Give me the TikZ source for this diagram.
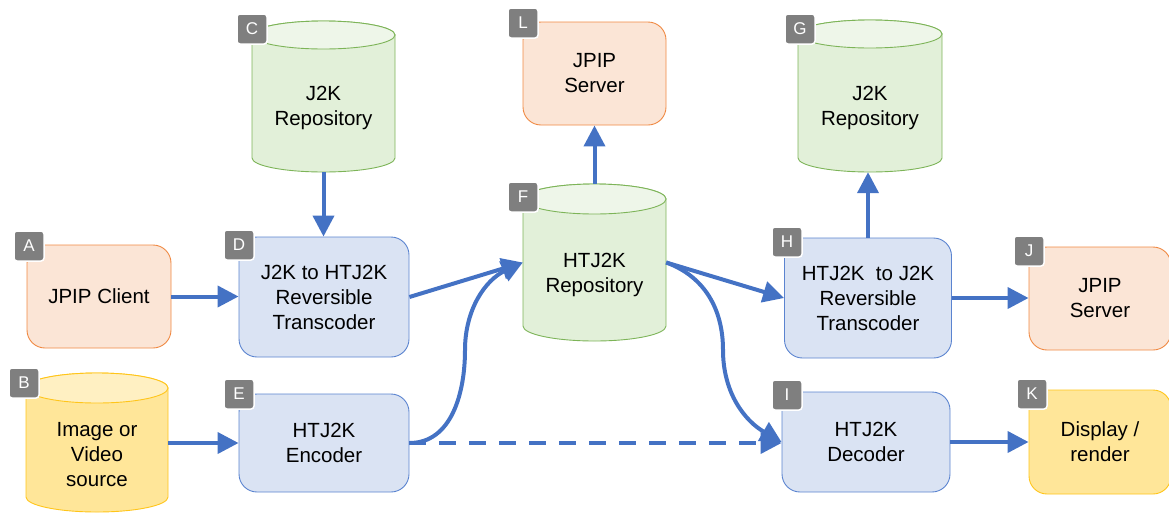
\documentclass[tikz,border=0pt]{standalone}
\usepackage{fontspec}
\setmainfont{Liberation Sans}
\usetikzlibrary{arrows.meta,calc}
\definecolor{orfill}{HTML}{FBE5D6}
\definecolor{ordraw}{HTML}{F08A44}
\definecolor{blfill}{HTML}{DAE3F3}
\definecolor{bldraw}{HTML}{5B84D0}
\definecolor{grfill}{HTML}{E2F0D9}
\definecolor{grtop}{HTML}{EEF6E9}
\definecolor{grdraw}{HTML}{7DB458}
\definecolor{yefill}{HTML}{FFE699}
\definecolor{yetop}{HTML}{FFF0C2}
\definecolor{yedraw}{HTML}{FFC51A}
\definecolor{badgegray}{HTML}{7F7F7F}
\definecolor{arrowblue}{HTML}{4472C4}
\newcommand{\cyldraw}[8]{%
  \pgfmathsetmacro{\cylcx}{(#1+#3)/2}%
  \pgfmathsetmacro{\cylrx}{(#3-#1)/2}%
  \filldraw[fill=#6, draw=#8, line width=0.9pt] (#1,{#2-#5}) -- (#1,{#4+#5})
    arc[start angle=180,end angle=360,x radius=\cylrx,y radius=#5]
    -- (#3,{#2-#5})
    arc[start angle=0,end angle=180,x radius=\cylrx,y radius=#5] -- cycle;
  \filldraw[fill=#7, draw=#8, line width=0.9pt] (\cylcx,{#2-#5}) ellipse[x radius=\cylrx, y radius=#5];
}
\tikzset{
  txt/.style={font=\fontsize{20.5}{25}\selectfont, align=center, inner sep=0pt},
  box/.style={txt, rectangle, rounded corners=18pt, line width=0.9pt},
  orbox/.style={box, fill=orfill, draw=ordraw},
  blbox/.style={box, fill=blfill, draw=bldraw},
  yebox/.style={box, fill=yefill, draw=yedraw},
  cylbox/.style={rectangle, inner sep=0pt},
  badge/.style={rectangle, fill=badgegray, draw=white, line width=1.5pt, rounded corners=3pt,
    minimum size=30pt, inner sep=0pt, text=white, font=\fontsize{17}{17}\selectfont},
  conn/.style={draw=arrowblue, line width=4pt, -{Triangle[length=21pt,width=21pt]}},
  dashconn/.style={conn, dash pattern=on 17pt off 13pt},
}
\begin{document}
\begin{tikzpicture}[x=1pt,y=1pt]
\useasboundingbox (0,0) rectangle (1169,-512);
% rounded boxes
\node[orbox, minimum width=144pt, minimum height=103pt] (A) at (99,-296.5) {JPIP Client};
\node[blbox, minimum width=170pt, minimum height=120pt] (D) at (324,-297) {J2K to HTJ2K\\Reversible\\Transcoder};
\node[blbox, minimum width=170pt, minimum height=98pt] (E) at (324,-443) {HTJ2K\\Encoder};
\node[orbox, minimum width=143pt, minimum height=103pt] (L) at (594.5,-73.5) {JPIP\\Server};
\node[blbox, minimum width=167pt, minimum height=120pt] (H) at (868,-298) {HTJ2K~ to J2K\\Reversible\\Transcoder};
\node[blbox, minimum width=168pt, minimum height=100pt] (I) at (866,-442) {HTJ2K\\Decoder};
\node[orbox, minimum width=142pt, minimum height=103pt] (J) at (1100,-298.5) {JPIP\\Server};
\node[yebox, minimum width=142pt, minimum height=104pt] (K) at (1100,-442) {Display /\\render};
% cylinders
\cyldraw{26}{-373}{168}{-512}{15}{yefill}{yetop}{yedraw}
\node[cylbox, minimum width=142pt, minimum height=137pt] (B) at (97,-441.5) {};
\node[txt] (Btext) at (97,-455) {Image or\\Video\\source};
\cyldraw{252}{-21}{395}{-172}{14}{grfill}{grtop}{grdraw}
\node[cylbox, minimum width=143pt, minimum height=151pt] (C) at (323.5,-96.5) {};
\node[txt] (Ctext) at (323.5,-108) {J2K\\Repository};
\cyldraw{523}{-184}{666}{-341}{15}{grfill}{grtop}{grdraw}
\node[cylbox, minimum width=143pt, minimum height=157pt] (F) at (594.5,-262.5) {};
\node[txt] (Ftext) at (594.5,-274.5) {HTJ2K\\Repository};
\cyldraw{798}{-20}{942}{-172}{14}{grfill}{grtop}{grdraw}
\node[cylbox, minimum width=144pt, minimum height=152pt] (G) at (870,-96) {};
\node[txt] (Gtext) at (870,-108) {J2K\\Repository};
% connectors
\coordinate (ef) at (465,-350);
\coordinate (fi) at (723,-350);
\draw[conn] (A.east) -- (A.east -| D.west);
\draw[conn] (B.east |- E.west) -- (E.west);
\draw[conn] (C.south) -- (C.south |- D.north);
\draw[conn] (F.north) -- (F.north |- L.south);
\draw[conn] (H.north) -- (H.north |- G.south);
\draw[conn] (H.east) -- (H.east -| J.west);
\draw[conn] (I.east) -- (I.east -| K.west);
\draw[conn] (D.east) -- (F.west);
\draw[conn] (F.east) -- (H.west);
\draw[conn] (E.east) to[out=0,in=-90] (ef) to[out=90,in=205] (F.west);
\draw[conn] (F.east) to[out=-20,in=90] (fi) to[out=-90,in=150] (I.west);
\draw[dashconn] (E.east) -- (E.east -| I.west);
% badges
\node[badge] (bA) at (29,-246) {A};
\node[badge] (bB) at (24,-383) {B};
\node[badge] (bC) at (252,-29) {C};
\node[badge] (bD) at (239,-245) {D};
\node[badge] (bE) at (239,-394) {E};
\node[badge] (bF) at (523,-197) {F};
\node[badge] (bG) at (800,-29) {G};
\node[badge] (bH) at (787,-242) {H};
\node[badge] (bI) at (787,-395) {I};
\node[badge] (bJ) at (1029,-251) {J};
\node[badge] (bK) at (1032,-394) {K};
\node[badge] (bL) at (523,-23) {L};
\end{tikzpicture}
\end{document}
